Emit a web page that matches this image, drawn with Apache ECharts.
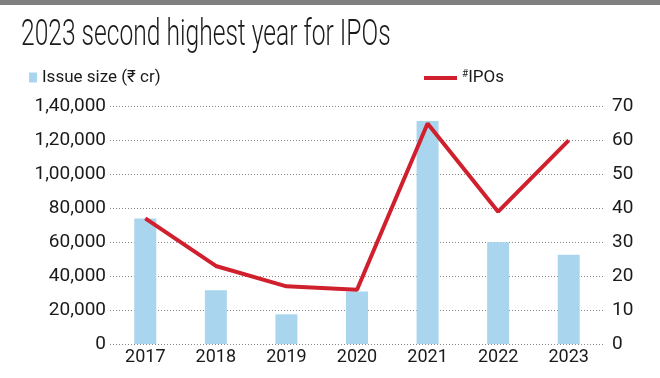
<!DOCTYPE html>
<html><head><meta charset="utf-8">
<script src="https://cdn.jsdelivr.net/npm/echarts@6/dist/echarts.min.js"></script>
<style>html,body{margin:0;padding:0;background:#fff}#c{width:660px;height:378px}</style>
</head><body><div id="c"></div>
<script>
const years = ['2017','2018','2019','2020','2021','2022','2023'];
const issueSize = [74000, 31700, 17500, 31000, 131400, 60000, 52600];
const ipoCount = [37, 23, 17, 16, 65, 39, 60];
const leftTicks = [0, 140000, 20000];
const rightTicks = [0, 70, 10];
const titleText = '2023 second highest year for IPOs';

const FONT = '"Roboto", "Noto Sans", sans-serif';
function indian(v){
  const s = String(v);
  if (s.length <= 3) return s;
  const last3 = s.slice(-3);
  let rest = s.slice(0, -3);
  const parts = [];
  while (rest.length > 2) { parts.unshift(rest.slice(-2)); rest = rest.slice(0, -2); }
  if (rest) parts.unshift(rest);
  return parts.join(',') + ',' + last3;
}
const chart = echarts.init(document.getElementById('c'));
chart.setOption({
  animation: false,
  graphic: [
    {type:'rect', shape:{x:0,y:0,width:660,height:5}, style:{fill:'#808080'}},
    {type:'text', x:21, y:17, scaleX:0.665, originX:0,
     style:{text:titleText, font:'300 37px "Roboto", "Noto Sans", sans-serif', fill:'#1a1a1a'}}
  ],
  legend: [
    {data:['Issue size (₹ cr)'], left: 24, top: 64, icon:'rect', itemWidth:8, itemHeight:10, itemGap:7,
     textStyle:{fontFamily:FONT, fontSize:17, color:'#1a1a1a'}},
    {data:['#IPOs'], left: 419, top: 64, icon:'rect', itemWidth:33, itemHeight:4, itemGap:4,
     formatter: n => '{sup|#}{n|IPOs}',
     textStyle:{fontFamily:FONT, fontSize:17, color:'#1a1a1a',
       rich:{sup:{fontFamily:FONT, fontSize:10, color:'#1a1a1a', verticalAlign:'top', padding:[0,0,8,0]}, n:{fontFamily:FONT, fontSize:17, color:'#1a1a1a'}}}}
  ],
  grid: {left:110, right:56, top:106.5, bottom:34, containLabel:false},
  xAxis: {type:'category', data: years, boundaryGap:true,
    axisLine:{show:false}, axisTick:{show:false},
    axisLabel:{fontFamily:FONT, fontSize:18, color:'#1a1a1a', margin:4}},
  yAxis: [
    {type:'value', min:leftTicks[0], max:leftTicks[1], interval:leftTicks[2],
     axisLine:{show:false}, axisTick:{show:false},
     axisLabel:{fontFamily:FONT, fontSize:19, color:'#1a1a1a', margin:4, formatter: v => indian(v)},
     splitLine:{lineStyle:{type:[1,2], color:'#888', width:1}}},
    {type:'value', min:rightTicks[0], max:rightTicks[1], interval:rightTicks[2], position:'right',
     axisLine:{show:false}, axisTick:{show:false},
     axisLabel:{fontFamily:FONT, fontSize:19, color:'#1a1a1a', margin:8},
     splitLine:{show:false}}
  ],
  series: [
    {name:'Issue size (₹ cr)', type:'bar', data: issueSize, barWidth:22, itemStyle:{color:'#a9d5ee'}},
    {name:'#IPOs', type:'line', yAxisIndex:1, data: ipoCount, symbol:'none',
     lineStyle:{color:'#d0202e', width:4}, itemStyle:{color:'#d0202e'}}
  ]
});
</script></body></html>
